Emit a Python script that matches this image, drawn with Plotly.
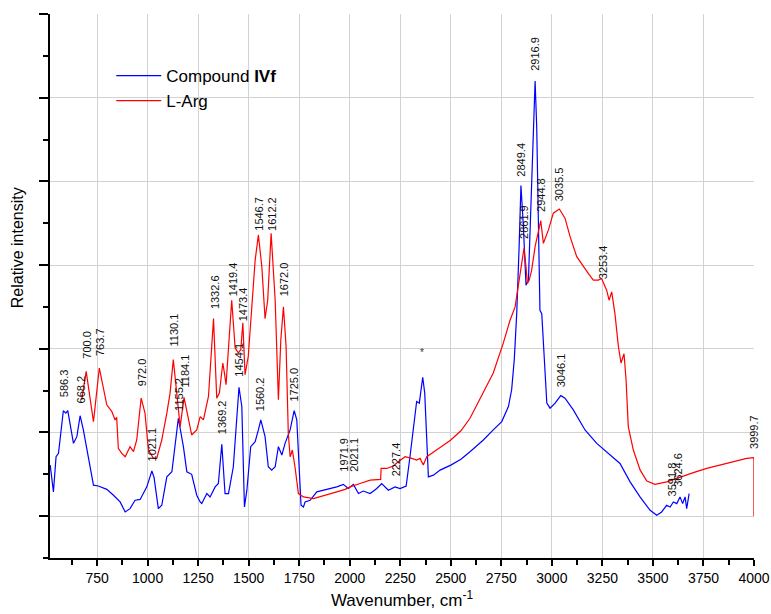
import plotly.graph_objects as go

# Compound IVf spectrum (wavenumber, cm-1 ; relative intensity)
ivf_wn = [518, 534, 547, 559, 583, 595, 605, 633, 650, 666, 682, 707, 732, 756, 773, 798, 831, 864, 889,
          913, 938, 963, 996, 1021, 1032, 1053, 1070, 1095, 1120, 1152, 1177, 1194, 1218, 1243, 1260, 1268,
          1293, 1309, 1334, 1350, 1367, 1383, 1400, 1424, 1452, 1466, 1479, 1491, 1510, 1532, 1548, 1560,
          1581, 1597, 1614, 1631, 1647, 1664, 1680, 1705, 1725, 1738, 1759, 1771, 1779, 1804, 1837, 1869,
          1903, 1936, 1968, 1993, 2018, 2043, 2067, 2101, 2134, 2158, 2191, 2224, 2249, 2279, 2298, 2315,
          2331, 2344, 2361, 2371, 2381, 2389, 2414, 2447, 2500, 2550, 2595, 2661, 2710, 2752, 2785, 2801,
          2814, 2826, 2838, 2847, 2859, 2872, 2884, 2897, 2908, 2917, 2925, 2933, 2941, 2950, 2961, 2975,
          2991, 3016, 3044, 3065, 3106, 3164, 3222, 3288, 3337, 3387, 3436, 3486, 3519, 3543, 3568, 3585,
          3601, 3618, 3634, 3647, 3659, 3667, 3679]
ivf_int = [1.11, 0.79, 1.21, 1.25, 1.76, 1.73, 1.76, 1.37, 1.45, 1.70, 1.53, 1.21, 0.87, 0.86, 0.84, 0.82,
           0.75, 0.67, 0.55, 0.59, 0.69, 0.70, 0.85, 1.04, 0.96, 0.59, 0.63, 0.97, 1.03, 1.67, 1.33, 1.03,
           1.00, 0.75, 0.67, 0.65, 0.77, 0.73, 0.85, 0.89, 1.36, 0.77, 0.77, 1.09, 2.04, 1.81, 0.61, 0.81,
           1.33, 1.39, 1.53, 1.65, 1.45, 1.09, 1.05, 1.09, 1.33, 1.23, 1.37, 1.53, 1.76, 1.65, 0.63, 0.61,
           0.67, 0.69, 0.79, 0.81, 0.83, 0.85, 0.88, 0.83, 0.88, 0.77, 0.80, 0.77, 0.83, 0.89, 0.81, 0.85,
           0.83, 0.86, 1.21, 1.57, 1.87, 1.85, 2.16, 1.97, 1.37, 0.97, 0.99, 1.05, 1.11, 1.18, 1.27, 1.41,
           1.53, 1.63, 1.81, 2.01, 2.37, 2.92, 3.72, 4.45, 3.96, 3.26, 3.32, 4.36, 5.15, 5.70, 5.15, 4.16,
           2.96, 2.92, 2.37, 1.85, 1.79, 1.85, 1.94, 1.91, 1.77, 1.53, 1.37, 1.23, 1.13, 0.91, 0.73, 0.57,
           0.51, 0.55, 0.63, 0.61, 0.67, 0.65, 0.73, 0.65, 0.73, 0.59, 0.77]

# L-Arg spectrum
arg_wn = [674, 696, 732, 761, 798, 823, 839, 847, 855, 872, 889, 913, 930, 946, 968, 987, 1004, 1029, 1045,
          1070, 1095, 1111, 1127, 1144, 1161, 1180, 1197, 1218, 1243, 1260, 1276, 1301, 1326, 1342, 1355,
          1372, 1380, 1388, 1416, 1433, 1449, 1461, 1471, 1482, 1498, 1515, 1532, 1548, 1565, 1581, 1594,
          1611, 1631, 1647, 1659, 1672, 1685, 1696, 1705, 1716, 1729, 1746, 1771, 1820, 1869, 1936, 1977,
          2002, 2051, 2101, 2153, 2155, 2183, 2216, 2240, 2274, 2307, 2331, 2348, 2364, 2381, 2414, 2447,
          2500, 2550, 2595, 2661, 2710, 2760, 2793, 2818, 2834, 2851, 2862, 2872, 2879, 2888, 2900, 2917,
          2930, 2945, 2958, 2983, 3007, 3037, 3065, 3090, 3123, 3156, 3180, 3205, 3230, 3246, 3271, 3283,
          3296, 3312, 3329, 3342, 3357, 3367, 3378, 3403, 3437, 3470, 3510, 3568, 3635, 3700, 3766, 3832,
          3898, 3964, 3999.7, 3999.8]
arg_int = [1.89, 2.23, 1.63, 2.27, 1.83, 1.75, 1.65, 1.68, 1.31, 1.25, 1.21, 1.33, 1.27, 1.41, 1.91, 1.73,
           1.29, 1.19, 1.19, 1.41, 1.73, 1.97, 2.37, 1.93, 1.57, 1.92, 1.73, 1.47, 1.53, 1.69, 1.65, 1.93,
           2.86, 1.91, 1.97, 2.33, 2.21, 2.07, 3.08, 2.51, 2.45, 2.49, 2.81, 2.19, 2.41, 2.96, 3.56, 3.86,
           3.48, 2.86, 3.08, 3.88, 3.08, 1.89, 2.61, 3.00, 2.53, 1.49, 1.21, 1.29, 1.09, 0.77, 0.73, 0.71,
           0.74, 0.79, 0.82, 0.85, 0.89, 0.93, 0.94, 1.07, 1.07, 1.10, 1.15, 1.21, 1.19, 1.17, 1.19, 1.11,
           1.21, 1.27, 1.32, 1.41, 1.52, 1.67, 1.97, 2.21, 2.57, 2.84, 3.00, 3.24, 3.52, 3.70, 3.48, 3.28,
           3.32, 3.44, 3.72, 3.88, 4.03, 3.76, 3.92, 4.12, 4.17, 4.06, 3.84, 3.60, 3.48, 3.40, 3.32, 3.32,
           3.34, 3.20, 3.08, 3.18, 2.92, 2.53, 2.33, 2.44, 2.13, 1.57, 1.29, 1.05, 0.92, 0.88, 0.91, 0.97,
           1.02, 1.07, 1.11, 1.15, 1.19, 1.20, 0.50]

# Peak labels and the intensity level at which each label sits
peak_labels = ["586.3", "668.2", "700.0", "763.7", "972.0", "1021.1", "1130.1", "1155.2", "1184.1",
               "1332.6", "1369.2", "1419.4", "1454.1", "1473.4", "1546.7", "1560.2", "1612.2", "1672.0",
               "1725.0", "1971.9", "2021.1", "2227.4", "2849.4", "2861.9", "2916.9", "2944.8", "3035.5",
               "3046.1", "3253.4", "3591.8", "3624.6", "3999.7"]
peak_label_level = [1.91, 1.83, 2.37, 2.40, 2.04, 1.14, 2.52, 1.74, 2.03, 2.96, 1.47, 3.12, 2.16, 2.82,
                    3.90, 1.74, 3.90, 3.12, 1.86, 1.02, 1.02, 0.96, 4.55, 3.80, 5.81, 4.12, 4.25, 2.03,
                    3.32, 0.73, 0.84, 1.29]
star_wn, star_level = 2355, 2.45

x_ticks = [750, 1000, 1250, 1500, 1750, 2000, 2250, 2500, 2750, 3000, 3250, 3500, 3750, 4000]

FONT = "Liberation Sans, Arial, sans-serif"

fig = go.Figure()
fig.add_trace(go.Scatter(x=ivf_wn, y=ivf_int, mode="lines", name="Compound <b>IVf</b>",
                         line=dict(color="#0000FF", width=1.2)))
fig.add_trace(go.Scatter(x=arg_wn, y=arg_int, mode="lines", name="L-Arg",
                         line=dict(color="#FF0000", width=1.2)))

annotations = []
for lab, lev in zip(peak_labels, peak_label_level):
    annotations.append(dict(x=float(lab), y=lev, xref="x", yref="y", text=lab, textangle=-90,
                            showarrow=False, xanchor="center", yanchor="bottom",
                            font=dict(family=FONT, size=11, color="#111111"), borderpad=0))
annotations.append(dict(x=star_wn, y=star_level, xref="x", yref="y", text="*", showarrow=False,
                        font=dict(family=FONT, size=10, color="#333333")))
annotations.append(dict(x=-0.045, y=0.57, xref="paper", yref="paper", text="Relative intensity",
                        textangle=-90, showarrow=False, xanchor="center", yanchor="middle",
                        font=dict(family=FONT, size=16, color="black")))

fig.update_layout(
    width=771, height=614,
    margin=dict(l=50, r=17, t=14, b=56),
    paper_bgcolor="white", plot_bgcolor="white",
    font=dict(family=FONT, color="black"),
    showlegend=True,
    legend=dict(x=0.087, y=0.919, xanchor="left", yanchor="top", bgcolor="rgba(255,255,255,0)",
                font=dict(family=FONT, size=17), itemwidth=45, borderwidth=0,
                tracegroupgap=0),
    shapes=[dict(type="rect", xref="paper", yref="paper", x0=0.0625, x1=0.362, y0=0.81, y1=0.919,
                 fillcolor="white", line=dict(width=0), layer="between")],
    annotations=annotations,
    xaxis=dict(range=[517, 4000], tickvals=x_ticks, ticks="outside", ticklen=6, tickwidth=1.5,
               tickcolor="black", showline=True, linecolor="black", linewidth=2,
               showgrid=True, gridcolor="#d2d2d2", gridwidth=1, zeroline=False,
               tickfont=dict(family=FONT, size=14),
               minor=dict(dtick=125, tick0=0, ticks="outside", ticklen=5, tickcolor="black",
                          tickwidth=1.5, showgrid=False),
               title=dict(text="Wavenumber, cm<sup>-1</sup>", font=dict(family=FONT, size=17),
                          standoff=9),
               automargin=False),
    yaxis=dict(range=[0, 6.5], tick0=0.5, dtick=1, ticks="outside", ticklen=9, tickwidth=2,
               tickcolor="black", showline=True, linecolor="black", linewidth=2,
               showticklabels=False, showgrid=True, gridcolor="#d2d2d2", gridwidth=1, zeroline=False,
               minor=dict(dtick=0.5, tick0=0, ticks="outside", ticklen=5, tickcolor="black",
                          tickwidth=2, showgrid=False),
               automargin=False),
)

fig.write_html("out.html")
